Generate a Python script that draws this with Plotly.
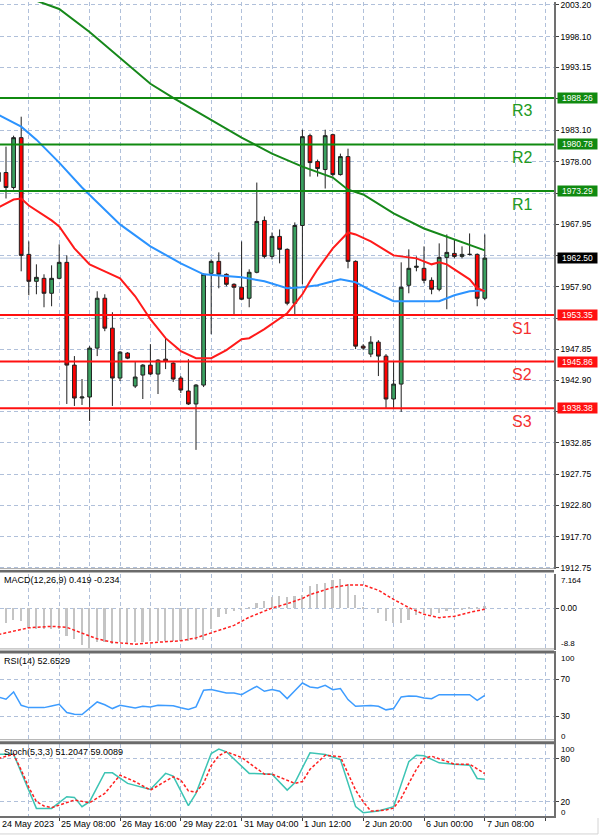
import plotly.graph_objects as go

# ---------------- DATA ----------------
idx = list(range(65))
opens = [1974.81,1976.26,1973.85,1981.87,1963.10,1958.77,1959.25,1956.85,1959.25,1961.82,
         1945.30,1940.01,1940.17,1948.03,1956.05,1951.24,1943.22,1947.23,1941.93,1943.70,
         1945.30,1943.86,1946.26,1945.62,1943.22,1941.13,1939.05,1942.09,1960.06,1961.98,
         1959.90,1958.29,1957.81,1956.05,1960.22,1968.56,1962.78,1965.99,1963.91,1955.25,
         1967.75,1982.19,1978.02,1976.74,1982.35,1975.93,1978.82,1961.98,1948.35,1947.07,
         1948.99,1946.75,1939.85,1942.25,1958.13,1961.02,1960.86,1958.93,1957.49,1962.62,
         1963.26,1962.78,1963.10,1963.10,1956.05]
highs = [1977.22,1980.42,1982.19,1985.24,1965.19,1961.50,1959.90,1961.34,1964.71,1962.94,
         1946.75,1943.06,1948.35,1957.17,1956.69,1953.80,1947.55,1947.39,1945.94,1945.46,
         1948.67,1946.26,1949.63,1945.78,1943.54,1946.26,1942.25,1960.06,1962.30,1963.42,
         1960.06,1958.45,1965.19,1960.70,1974.65,1969.20,1966.63,1967.11,1964.07,1968.24,
         1983.15,1982.51,1978.34,1983.15,1982.51,1979.30,1980.10,1962.14,1948.67,1949.95,
         1949.31,1947.07,1945.94,1961.82,1963.91,1962.78,1964.39,1959.41,1964.87,1966.31,
         1965.51,1964.39,1966.47,1963.26,1966.31]
lows = [1974.01,1972.09,1973.53,1960.38,1956.53,1956.69,1954.60,1954.76,1959.09,1939.05,
        1938.73,1938.89,1936.32,1946.75,1950.75,1938.73,1942.74,1946.26,1941.61,1939.85,
        1943.70,1940.65,1944.66,1942.58,1940.81,1938.89,1931.67,1941.77,1950.27,1957.65,
        1957.97,1953.32,1955.73,1954.60,1960.06,1962.46,1962.30,1961.66,1954.92,1953.48,
        1958.29,1975.61,1975.61,1973.69,1975.61,1975.77,1960.86,1947.87,1947.71,1946.58,
        1943.54,1938.41,1938.25,1937.77,1956.85,1960.38,1958.45,1956.69,1957.17,1954.28,
        1962.46,1962.46,1962.94,1954.76,1955.73]
closes = [1976.26,1973.85,1981.87,1962.94,1958.77,1959.41,1956.85,1959.25,1961.82,1945.30,
          1940.01,1940.17,1948.03,1956.05,1951.24,1943.22,1947.39,1946.42,1943.38,1945.30,
          1943.86,1946.10,1945.94,1943.06,1941.29,1939.05,1942.09,1959.90,1961.98,1959.90,
          1958.29,1957.81,1955.89,1960.22,1968.40,1962.78,1965.99,1963.91,1955.25,1967.75,
          1982.03,1977.86,1976.90,1982.19,1975.93,1978.82,1961.98,1948.35,1948.03,1948.99,
          1946.75,1939.85,1942.25,1957.81,1960.86,1961.18,1958.93,1957.49,1962.62,1963.42,
          1962.78,1963.10,1963.10,1956.05,1962.50]

# moving averages (slow green, medium blue, fast red)
ma_slow_idx = [0,5,8,12,16,20,23,28,32,36,40,44,46,48,52,56,60,64]
ma_slow_val = [2006.09,2003.84,2002.56,1998.87,1994.70,1990.53,1988.28,1984.76,1981.87,1979.30,
               1977.22,1975.45,1973.50,1972.73,1969.68,1967.27,1965.51,1963.75]
ma_mid_idx = [0,3,5,8,11,16,20,24,27,30,32,35,38,40,42,45,47,49,52,58,60,62,64]
ma_mid_val = [1985.56,1983.63,1981.55,1977.86,1973.85,1967.92,1964.39,1961.66,1959.90,1959.58,
              1959.41,1958.77,1957.65,1957.81,1958.13,1959.09,1958.61,1957.33,1955.57,1955.57,
              1956.53,1957.17,1957.33]
ma_fast_idx = [0,2,3,4,7,8,10,12,14,16,18,20,22,24,26,28,30,32,33,35,38,39,40,41,42,44,46,47,
               49,52,55,57,58,59,61,62,63,64]
ma_fast_val = [1970.64,1971.92,1972.09,1970.96,1968.56,1967.60,1964.07,1961.50,1960.38,1959.25,
               1956.37,1952.68,1949.63,1947.55,1946.42,1946.42,1947.71,1949.47,1949.63,1951.08,
               1953.64,1955.09,1956.69,1958.77,1960.70,1964.07,1966.63,1966.31,1965.19,1962.94,
               1962.46,1961.50,1961.82,1961.50,1959.90,1959.09,1957.65,1957.17]

# pivot levels
level_names = ["R3", "R2", "R1", "S1", "S2", "S3"]
level_values = [1988.26, 1980.78, 1973.29, 1953.35, 1945.86, 1938.38]
last_price = 1962.50

main_ticks = [2003.20,1998.10,1993.15,1988.10,1983.10,1978.00,1972.95,1967.95,1962.90,1957.90,
              1952.85,1947.85,1942.90,1937.80,1932.85,1927.75,1922.80,1917.70,1912.75]
# ticks whose labels sit under a level box (grid line only)
hidden_ticks = [1988.10, 1972.95, 1962.90, 1952.85, 1937.80]

# MACD (main as histogram, signal dotted)
macd_main = [-2.5,-3.0,-2.3,-2.6,-4.0,-4.3,-4.3,-4.3,-4.3,-5.8,-6.3,-7.5,-8.2,-6.9,-6.9,-7.3,
             -6.9,-7.3,-6.9,-6.9,-6.7,-6.7,-6.7,-6.7,-6.7,-6.7,-6.5,-6.5,-4.3,-1.7,-1.2,-0.6,
             -0.2,0.1,1.1,1.6,2.3,2.5,2.3,2.5,2.9,4.6,5.1,5.3,6.0,6.2,5.0,2.9,0.2,0.0,-0.9,
             -2.7,-3.1,-3.1,-2.4,-1.3,-0.9,-1.3,-0.9,-0.6,-0.4,-0.2,0.2,0.3,0.419]
macd_sig_idx = [0,4,7,9,11,13,15,18,21,24,26,28,31,33,36,38,40,41,44,46,48,50,52,54,56,58,60,62,64]
macd_sig_val = [-5.5,-4.1,-3.8,-4.0,-5.2,-6.4,-7.1,-7.5,-7.1,-6.8,-6.2,-5.2,-3.6,-1.9,0.0,0.9,
                2.0,2.8,4.3,4.8,4.8,3.7,1.8,0.1,-1.3,-2.0,-1.7,-0.9,-0.234]
macd_range = [-8.8, 7.164]

# RSI(14)
rsi = [50.9,48.4,56.3,41.9,39.4,39.4,39.4,41.2,43.0,34.1,32.2,31.9,38.7,45.5,42.5,38.4,41.9,
       40.5,39.0,40.9,40.2,41.9,41.6,41.4,39.2,37.3,40.2,58.1,58.8,57.0,55.2,55.2,53.4,58.0,
       62.4,57.0,58.8,57.0,49.1,57.5,65.9,61.6,60.5,63.4,58.8,59.9,48.1,40.9,41.2,41.8,40.8,
       37.0,38.4,50.9,51.9,51.6,49.8,49.1,53.4,53.4,53.4,53.4,53.4,47.3,52.65]

# Stochastic (5,3,3)
stoch_k_idx = [0,2,5,7,9,10,11,12,14,15,17,20,22,23,25,26,28,29,30,33,36,38,39,40,41,43,45,47,
               48,50,52,54,55,56,58,60,62,63,64]
stoch_k_val = [86,86,10.6,10.6,26.9,25.9,13,19.9,60.2,60.2,45.4,37.0,59.3,55.6,14.4,31.5,87.0,
               93.1,89.4,59.3,58.3,36.1,46.3,67,88,85.6,78.7,13,4.6,6.9,13,75.5,84.7,83.8,74,
               72.2,70.8,52.3,51.2]
stoch_d_idx = [0,2,3,4,5,6,7,8,10,12,14,16,18,20,23,24,25,26,27,28,29,30,32,35,36,39,40,41,43,
               45,46,47,48,49,50,51,52,53,54,55,56,57,60,62,64]
stoch_d_val = [80.1,86,64,40,20,14,11.6,15.3,22.2,18.5,31.5,56.9,47.7,36.1,54.6,50,35,33,45.4,
               70,84,89.4,81.5,58.3,58.3,45.4,48,65,84.7,82.4,58,36,19.9,6.9,7.5,8.3,11,25,45.4,
               65,80.1,83.3,72.2,72.2,59.0]

time_label_idx = [0, 8, 16, 24, 32, 40, 48, 56, 64]
time_labels = ["24 May 2023", "25 May 08:00", "26 May 16:00", "29 May 22:01", "31 May 04:00",
               "1 Jun 12:00", "2 Jun 20:00", "6 Jun 00:00", "7 Jun 08:00"]

macd_title = "MACD(12,26,9) 0.419 -0.234"
rsi_title = "RSI(14) 52.6529"
stoch_title = "Stoch(5,3,3) 51.2047 59.0089"

# ---------------- STYLE ----------------
FONT = "Liberation Sans, Arial, sans-serif"
GRID = "#b0c0da"
GDASH = "4px,3px"
W, H = 600, 836
PLOT_W = 554
PLOT_H = 816
SLOT = 7.6
X0 = 1.6 / SLOT
XR = [X0, X0 + PLOT_W / SLOT]

def fy(px):
    return 1 - px / PLOT_H

fig = go.Figure()

fig.add_trace(go.Candlestick(
    x=idx, open=opens, high=highs, low=lows, close=closes,
    xaxis="x", yaxis="y", whiskerwidth=0,
    increasing=dict(line=dict(color="#202020", width=1), fillcolor="#3aa060"),
    decreasing=dict(line=dict(color="#202020", width=1), fillcolor="#ff0000"),
    hoverinfo="skip", showlegend=False))

fig.add_trace(go.Scatter(x=ma_slow_idx, y=ma_slow_val, mode="lines",
                         line=dict(color="#16881a", width=2), xaxis="x", yaxis="y", hoverinfo="skip"))
fig.add_trace(go.Scatter(x=ma_mid_idx, y=ma_mid_val, mode="lines",
                         line=dict(color="#2b93ff", width=2), xaxis="x", yaxis="y", hoverinfo="skip"))
fig.add_trace(go.Scatter(x=ma_fast_idx, y=ma_fast_val, mode="lines",
                         line=dict(color="#ff1a1a", width=2), xaxis="x", yaxis="y", hoverinfo="skip"))

fig.add_trace(go.Bar(x=idx, y=macd_main, width=0.22, marker=dict(color="#c4c4c4", line=dict(width=0)),
                     xaxis="x2", yaxis="y2", hoverinfo="skip"))
fig.add_trace(go.Scatter(x=macd_sig_idx, y=macd_sig_val, mode="lines",
                         line=dict(color="#ff2020", width=1.5, dash="3px,2px"),
                         xaxis="x2", yaxis="y2", hoverinfo="skip"))

fig.add_trace(go.Scatter(x=idx, y=rsi, mode="lines", line=dict(color="#3d9cff", width=1.5),
                         xaxis="x3", yaxis="y3", hoverinfo="skip"))

fig.add_trace(go.Scatter(x=stoch_k_idx, y=stoch_k_val, mode="lines",
                         line=dict(color="#3cc4b4", width=1.5), xaxis="x4", yaxis="y4", hoverinfo="skip"))
fig.add_trace(go.Scatter(x=stoch_d_idx, y=stoch_d_val, mode="lines",
                         line=dict(color="#ff2020", width=1.5, dash="3px,2px"),
                         xaxis="x4", yaxis="y4", hoverinfo="skip"))

common_x = dict(range=XR, showticklabels=False, showgrid=True, gridcolor=GRID, griddash=GDASH,
                gridwidth=1, tick0=0, dtick=4, zeroline=False, showline=False, ticks="",
                fixedrange=True, rangeslider=dict(visible=False))
common_y = dict(side="right", showgrid=True, gridcolor=GRID, griddash=GDASH, gridwidth=1,
                ticks="outside", ticklen=3, tickcolor="#404040", zeroline=False,
                showline=True, linecolor="#707070", linewidth=1.5, fixedrange=True,
                ticklabeloverflow="allow",
                tickfont=dict(family=FONT, size=8.5, color="#000000"))

x4 = dict(common_x)
x4.update(dtick=8, ticks="outside", ticklen=3, tickcolor="#404040", showline=True,
          linecolor="#707070", linewidth=1.5,
          minor=dict(tick0=0, dtick=4, showgrid=True, gridcolor=GRID, griddash=GDASH, ticks=""))

main_text = ["" if v in hidden_ticks else f"{v:.2f}" for v in main_ticks]

fig.update_layout(
    width=W, height=H, margin=dict(l=0, r=W - PLOT_W, t=0, b=H - PLOT_H),
    plot_bgcolor="white", paper_bgcolor="white", showlegend=False,
    xaxis=dict(common_x, anchor="y", domain=[0, 1]),
    xaxis2=dict(common_x, anchor="y2", domain=[0, 1], matches="x"),
    xaxis3=dict(common_x, anchor="y3", domain=[0, 1], matches="x"),
    xaxis4=dict(x4, anchor="y4", domain=[0, 1], matches="x"),
    yaxis=dict(common_y, anchor="x", domain=[fy(568), 1], range=[1912.58, 2003.68],
               tickmode="array", tickvals=main_ticks, ticktext=main_text),
    yaxis2=dict(common_y, anchor="x2", domain=[fy(650), fy(573)], range=macd_range,
                tickmode="array", tickvals=[0], ticktext=["0.00"]),
    yaxis3=dict(common_y, anchor="x3", domain=[fy(744), fy(651)], range=[0, 100],
                tickmode="array", tickvals=[70, 30], ticktext=["70", "30"]),
    yaxis4=dict(common_y, anchor="x4", domain=[0, fy(744)], range=[0, 100],
                tickmode="array", tickvals=[80, 20], ticktext=["80", "20"]),
    bargap=0,
)

shapes = []
# last price line
shapes.append(dict(type="line", xref="paper", x0=0, x1=1, yref="y", y0=last_price, y1=last_price,
                   line=dict(color="#b4c6e0", width=1), layer="below"))
level_colors = []
for name, v in zip(level_names, level_values):
    col = "#108a10" if name.startswith("R") else "#ff1010"
    level_colors.append(col)
    shapes.append(dict(type="line", xref="paper", x0=0, x1=1, yref="y", y0=v, y1=v,
                       line=dict(color=col, width=2), layer="above"))
# panel separators
for light, d0, d1 in [(568, 569.5, 572), (648.5, 650, 653), (739.5, 741, 744)]:
    shapes.append(dict(type="line", xref="paper", x0=0, x1=1, yref="paper", y0=fy(light), y1=fy(light),
                       line=dict(color="#a8a8a8", width=1), layer="above"))
    shapes.append(dict(type="rect", xref="paper", x0=0, x1=1, yref="paper", y0=fy(d1), y1=fy(d0),
                       fillcolor="#6a6a6a", line=dict(width=0), layer="above"))
# outer window border (bottom / right)
shapes.append(dict(type="line", xref="paper", x0=0, x1=598 / PLOT_W, yref="paper",
                   y0=fy(834), y1=fy(834), line=dict(color="#d4d4d4", width=1), layer="above"))
shapes.append(dict(type="line", xref="paper", x0=598 / PLOT_W, x1=598 / PLOT_W, yref="paper",
                   y0=fy(834), y1=fy(818), line=dict(color="#d4d4d4", width=1), layer="above"))
fig.update_layout(shapes=shapes)

ann = []
# level price boxes
box_items = [(v, c) for v, c in zip(level_values, level_colors)] + [(last_price, "#000000")]
for v, c in box_items:
    ann.append(dict(x=557 / PLOT_W, xref="paper", xanchor="left", y=v, yref="y", yanchor="middle",
                    text=f"{v:.2f}", showarrow=False, bgcolor=c, width=39, height=10, borderpad=0,
                    align="center", font=dict(family=FONT, size=8.5, color="white")))
# level names
for name, v, c in zip(level_names, level_values, level_colors):
    tc = "#229a22" if name.startswith("R") else "#f43030"
    ann.append(dict(x=522 / PLOT_W, xref="paper", xanchor="center", y=v, yref="y", yanchor="middle",
                    yshift=-13, text=name, showarrow=False,
                    font=dict(family=FONT, size=16, color=tc)))
# indicator titles
for txt, py in [(macd_title, 579), (rsi_title, 661), (stoch_title, 752)]:
    ann.append(dict(x=2 / PLOT_W, xref="paper", xanchor="left", y=fy(py), yref="paper",
                    yanchor="middle", text=txt, showarrow=False,
                    font=dict(family=FONT, size=9, color="#000000")))
# extreme axis labels of sub panels
for txt, py in [(f"{macd_range[1]:.3f}", 580), (f"{macd_range[0]:.1f}", 643),
                ("100", 658), ("0", 736), ("100", 749), ("0", 812)]:
    ann.append(dict(x=559 / PLOT_W, xref="paper", xanchor="left", y=fy(py), yref="paper",
                    yanchor="middle", text=txt, showarrow=False,
                    font=dict(family=FONT, size=8, color="#000000")))
# time labels
for i, txt in zip(time_label_idx, time_labels):
    ann.append(dict(x=max(i, XR[0] + 0.01), xref="x4", xanchor="left", y=0, yref="paper",
                    yanchor="top", yshift=-1,
                    text=txt, showarrow=False, font=dict(family=FONT, size=9, color="#000000")))
fig.update_layout(annotations=ann)

fig.write_html("out.html")
